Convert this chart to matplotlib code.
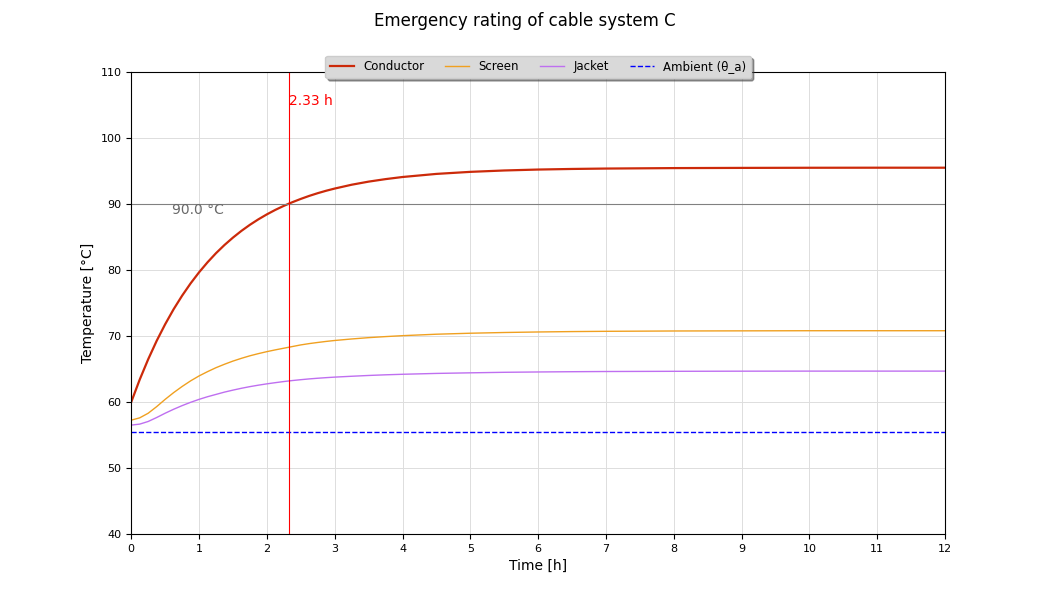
import matplotlib
matplotlib.use("Agg")
import matplotlib.pyplot as plt

# values
t_h = [0, 0.125, 0.25, 0.375, 0.5, 0.625, 0.75, 0.875, 1.0, 1.125, 1.25, 1.375,
       1.5, 1.625, 1.75, 1.875, 2.0, 2.125, 2.25, 2.375, 2.5, 2.625, 2.75, 2.875,
       3.0, 3.25, 3.5, 3.75, 4, 4.5, 5, 5.5, 6, 6.5, 7, 8, 9, 10, 11, 12]
conductor = [60.0, 63.40, 66.48, 69.27, 71.78, 74.06, 76.11, 77.97, 79.65,
             81.17, 82.55, 83.79, 84.91, 85.93, 86.85, 87.68, 88.43, 89.11,
             89.72, 90.27, 90.77, 91.23, 91.64, 92.01, 92.34, 92.92, 93.39,
             93.77, 94.09, 94.56, 94.87, 95.08, 95.22, 95.31, 95.37, 95.44,
             95.47, 95.49, 95.5, 95.5]
screen = [57.25, 57.6, 58.3, 59.3, 60.4, 61.42, 62.35, 63.2, 63.95, 64.6,
          65.2, 65.72, 66.2, 66.62, 67.0, 67.33, 67.63, 67.9, 68.15, 68.4,
          68.65, 68.85, 69.02, 69.18, 69.32, 69.55, 69.75, 69.91, 70.05, 70.27,
          70.42, 70.53, 70.61, 70.67, 70.71, 70.76, 70.78, 70.8, 70.8, 70.8]
jacket = [56.5, 56.65, 57.05, 57.65, 58.3, 58.9, 59.45, 59.95, 60.4, 60.8,
          61.15, 61.5, 61.8, 62.08, 62.33, 62.55, 62.75, 62.93, 63.1, 63.25,
          63.38, 63.5, 63.6, 63.69, 63.77, 63.9, 64.02, 64.12, 64.2, 64.33,
          64.42, 64.5, 64.55, 64.59, 64.62, 64.65, 64.67, 64.68, 64.68, 64.68]
ambient = 55.4
limit_temp = 90.0
t_limit = 2.33

fig, ax = plt.subplots(figsize=(10.5, 6), dpi=100)
fig.suptitle("Emergency rating of cable system C", fontsize=12)

ax.plot(t_h, conductor, color="#cc2a0a", lw=1.6, label="Conductor")
ax.plot(t_h, screen, color="#f0a020", lw=1.0, label="Screen")
ax.plot(t_h, jacket, color="#bf6ff0", lw=1.0, label="Jacket")
ax.axhline(ambient, color="blue", ls="--", lw=1.0, label="Ambient (θ_a)")

ax.axhline(limit_temp, color="gray", lw=0.8)
ax.axvline(t_limit, color="red", lw=0.8)
ax.text(0.6, limit_temp - 1.5, f"{limit_temp:.1f} °C", color="dimgray", fontsize=10)
ax.text(t_limit, 105, f"{t_limit:.2f} h", color="red", fontsize=10)

ax.set_xlim(0, 12)
ax.set_ylim(40, 110)
ax.set_xticks(range(0, 13))
ax.tick_params(labelsize=8)
ax.set_xlabel("Time [h]", fontsize=10)
ax.set_ylabel("Temperature [°C]", fontsize=10)
ax.grid(True, color="#dddddd", lw=0.7)

ax.legend(loc="upper center", bbox_to_anchor=(0.5, 1.048), ncol=4, fontsize=8.5,
          columnspacing=1.8, shadow=True, fancybox=True, facecolor="#d9d9d9",
          framealpha=1)

plt.savefig("out.png")
